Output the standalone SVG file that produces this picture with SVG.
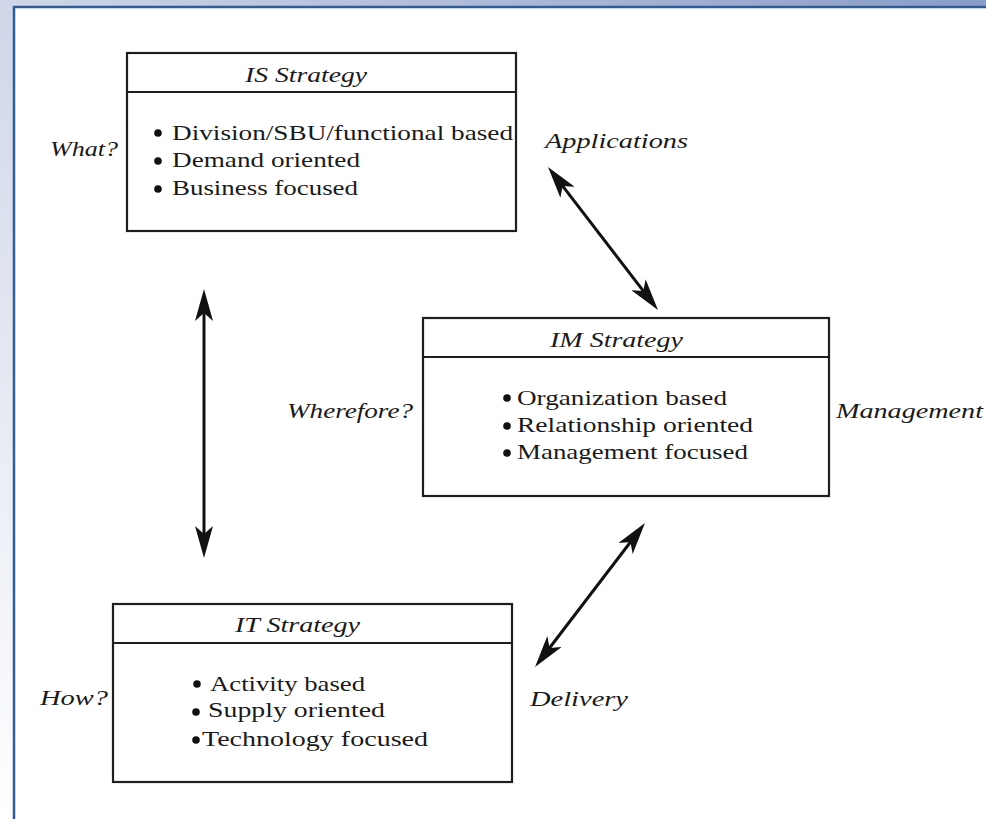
<svg xmlns="http://www.w3.org/2000/svg" width="986" height="819" viewBox="0 0 986 819">
<defs>
<linearGradient id="bg" gradientUnits="userSpaceOnUse" x1="986" y1="0" x2="0" y2="819">
<stop offset="0" stop-color="#8a9cc8"/>
<stop offset="1" stop-color="#ffffff"/>
</linearGradient>
<marker id="ah" viewBox="0 0 32 18" refX="22" refY="9" markerWidth="32" markerHeight="18" markerUnits="userSpaceOnUse" orient="auto-start-reverse">
<path d="M0,0 L32,9 L0,18 L8,9 Z" fill="#111"/>
</marker>
</defs>
<style>
.box{fill:#fff;stroke:#1e1e1e;stroke-width:2.2}
.sep{stroke:#1e1e1e;stroke-width:2}
.t{font-family:"Liberation Serif","Times New Roman",serif;font-size:22px;fill:#1a1a1a}
.i{font-style:italic;font-size:21px}
.b{fill:#111}
.c{stroke:#111;stroke-width:3;fill:none;marker-start:url(#ah);marker-end:url(#ah)}
</style>
<rect x="0" y="0" width="986" height="819" fill="url(#bg)"/>
<rect x="14" y="7" width="980" height="820" fill="#fff" stroke="#315c97" stroke-width="2.5"/>

<g id="is-strategy">
<rect class="box" x="127" y="53" width="389" height="178"/>
<line class="sep" x1="127" y1="92" x2="516" y2="92"/>
<text class="t i" x="245" y="82" textLength="122" lengthAdjust="spacingAndGlyphs">IS Strategy</text>
<circle class="b" cx="158" cy="133" r="3.8"/>
<circle class="b" cx="158" cy="161" r="3.8"/>
<circle class="b" cx="158" cy="189" r="3.8"/>
<text class="t" x="172" y="140" textLength="341" lengthAdjust="spacingAndGlyphs">Division/SBU/functional based</text>
<text class="t" x="172" y="167" textLength="188" lengthAdjust="spacingAndGlyphs">Demand oriented</text>
<text class="t" x="172" y="195" textLength="186" lengthAdjust="spacingAndGlyphs">Business focused</text>
</g>

<g id="im-strategy">
<rect class="box" x="423" y="318" width="406" height="178"/>
<line class="sep" x1="423" y1="357" x2="829" y2="357"/>
<text class="t i" x="550" y="347" textLength="133" lengthAdjust="spacingAndGlyphs">IM Strategy</text>
<circle class="b" cx="507" cy="398" r="3.8"/>
<circle class="b" cx="507" cy="426" r="3.8"/>
<circle class="b" cx="507" cy="453" r="3.8"/>
<text class="t" x="517" y="405" textLength="210" lengthAdjust="spacingAndGlyphs">Organization based</text>
<text class="t" x="517" y="432" textLength="236" lengthAdjust="spacingAndGlyphs">Relationship oriented</text>
<text class="t" x="517" y="459" textLength="231" lengthAdjust="spacingAndGlyphs">Management focused</text>
</g>

<g id="it-strategy">
<rect class="box" x="113" y="604" width="399" height="178"/>
<line class="sep" x1="113" y1="643" x2="512" y2="643"/>
<text class="t i" x="235" y="632" textLength="125" lengthAdjust="spacingAndGlyphs">IT Strategy</text>
<circle class="b" cx="197" cy="684" r="3.8"/>
<circle class="b" cx="196" cy="712" r="3.8"/>
<circle class="b" cx="196" cy="740" r="3.8"/>
<text class="t" x="210" y="691" textLength="155" lengthAdjust="spacingAndGlyphs">Activity based</text>
<text class="t" x="208" y="717" textLength="177" lengthAdjust="spacingAndGlyphs">Supply oriented</text>
<text class="t" x="202" y="746" textLength="226" lengthAdjust="spacingAndGlyphs">Technology focused</text>
</g>

<g id="labels">
<text class="t i" x="50" y="156" textLength="68" lengthAdjust="spacingAndGlyphs">What?</text>
<text class="t i" x="545" y="148" textLength="143" lengthAdjust="spacingAndGlyphs">Applications</text>
<text class="t i" x="287" y="418" textLength="126" lengthAdjust="spacingAndGlyphs">Wherefore?</text>
<text class="t i" x="836" y="418" textLength="147" lengthAdjust="spacingAndGlyphs">Management</text>
<text class="t i" x="40" y="705" textLength="68" lengthAdjust="spacingAndGlyphs">How?</text>
<text class="t i" x="530" y="706" textLength="98" lengthAdjust="spacingAndGlyphs">Delivery</text>
</g>

<g id="connectors">
<line class="c" x1="204" y1="299" x2="204" y2="548"/>
<line class="c" x1="554.1" y1="174.9" x2="651.9" y2="302.1"/>
<line class="c" x1="638.9" y1="531" x2="541.1" y2="659"/>
</g>
</svg>
